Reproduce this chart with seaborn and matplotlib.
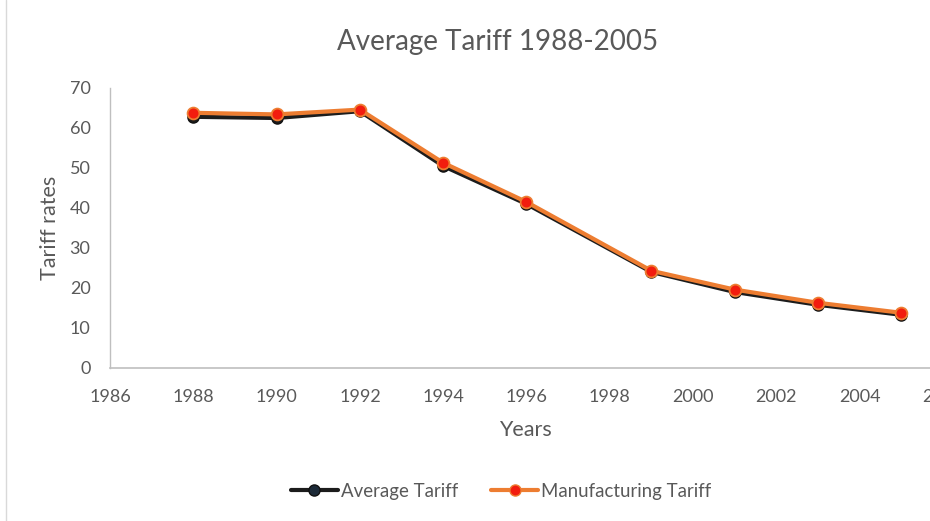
import matplotlib
matplotlib.use("Agg")
import matplotlib.pyplot as plt
import seaborn as sns
import pandas as pd
from matplotlib.lines import Line2D

years = [1988, 1990, 1992, 1994, 1996, 1999, 2001, 2003, 2005]
average_tariff = [62.8, 62.5, 64.2, 50.5, 41.0, 24.0, 19.0, 15.8, 13.3]
manufacturing_tariff = [63.8, 63.4, 64.6, 51.3, 41.5, 24.3, 19.6, 16.3, 13.8]
x_ticks = list(range(1986, 2008, 2))
y_ticks = list(range(0, 80, 10))

sns.set_theme(style="white")
plt.rcParams['font.family'] = ['Lato', 'DejaVu Sans']

TXT = "#595959"
fig = plt.figure(figsize=(9.3, 5.21), dpi=100)
ax = fig.add_axes([110/930, (521-368)/521, 833/930, 280/521])

df = pd.DataFrame({"Year": years, "Average Tariff": average_tariff,
                   "Manufacturing Tariff": manufacturing_tariff})

sns.lineplot(data=df, x="Year", y="Average Tariff", ax=ax, color="#1c1c1c",
             linewidth=3, marker="o", markersize=8, markerfacecolor="#1c1c1c",
             markeredgecolor="#111111", markeredgewidth=1, zorder=3)
sns.lineplot(data=df, x="Year", y="Manufacturing Tariff", ax=ax, color="#ED7D31",
             linewidth=3, marker="o", markersize=8.5, markerfacecolor="#F21C0E",
             markeredgecolor="#ED7D31", markeredgewidth=1.3, zorder=4)

ax.set_xlim(1986, 2006)
ax.set_ylim(0, 70)
ax.set_xticks(x_ticks)
ax.set_yticks(y_ticks)
ax.tick_params(axis='both', length=0, labelsize=13, colors=TXT)
ax.tick_params(axis='y', pad=14)
ax.tick_params(axis='x', pad=15)
for s in ["top", "right"]:
    ax.spines[s].set_visible(False)
ax.spines["left"].set_color("#bfbfbf")
ax.spines["bottom"].set_color("#bfbfbf")
ax.spines["left"].set_linewidth(1)
ax.spines["bottom"].set_linewidth(1.2)
ax.set_xlabel("Years", fontsize=15.5, color=TXT)
ax.set_ylabel("Tariff rates", fontsize=15.5, color=TXT)
ax.xaxis.set_label_coords((525-110)/833, -(430-368)/280)
ax.xaxis.label.set_va("center")
ax.yaxis.set_label_coords(-(110-50)/833, (368-228)/280)
ax.yaxis.label.set_va("center")

fig.text(498/930, 1-42/521, "Average Tariff 1988-2005", ha="center", va="center",
         fontsize=20, color=TXT)

handles = [
    Line2D([], [], color="#1c1c1c", linewidth=3, marker="o", markersize=8,
           markerfacecolor="#1c2a38", markeredgecolor="#111111"),
    Line2D([], [], color="#ED7D31", linewidth=3, marker="o", markersize=8,
           markerfacecolor="#F21C0E", markeredgecolor="#ED7D31"),
]
fig.legend(handles, ["Average Tariff", "Manufacturing Tariff"], loc="center",
           bbox_to_anchor=(501/930, 1-491/521), ncol=2, frameon=False,
           fontsize=13.4, labelcolor=TXT, handlelength=2.5, handletextpad=0.15,
           columnspacing=1.8)

fig.add_artist(Line2D([6/930, 6/930], [0, 1], color="#d9d9d9", linewidth=1,
                      transform=fig.transFigure))

fig.savefig("out.png", dpi=100)
